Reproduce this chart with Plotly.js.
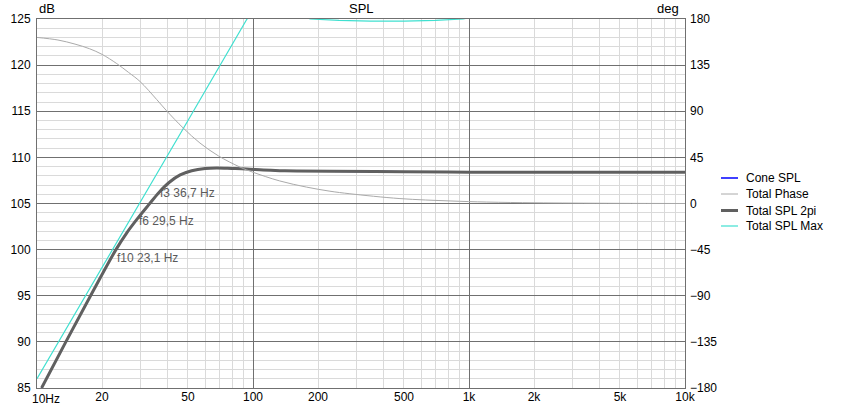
<!DOCTYPE html>
<html>
<head>
<meta charset="utf-8">
<script src="https://cdn.plot.ly/plotly-3.0.1.min.js"></script>
<style>html,body{margin:0;padding:0;background:#fff;}#chart{width:841px;height:405px;}</style>
</head>
<body>
<div id="chart"></div>
<script>
// ---- data ----
const freqSpl = [10.5, 13.6, 17.7, 23.2, 26, 29.5, 33, 36.7, 41, 46, 52, 60, 68, 80, 93.5, 111.6, 133, 159, 227, 500, 1000, 2000, 10000];
const spl2pi  = [85, 90, 95, 100, 101.8, 103.5, 104.9, 106.2, 107.3, 108.1, 108.55, 108.8, 108.85, 108.8, 108.74, 108.63, 108.56, 108.52, 108.49, 108.45, 108.4, 108.39, 108.38];
const coneSpl = spl2pi; // cone SPL lies under the total SPL curve

const freqPhase = [10, 12.5, 15, 17.5, 20, 23.4, 26.5, 30, 35.8, 39.8, 47.6, 56.8, 69.1, 87.1, 100, 133, 177, 227, 281, 479, 817, 1208, 2000, 3000, 5000, 10000];
const phase     = [162, 159.5, 155.5, 151, 145.5, 136.5, 128, 119, 101.5, 90.5, 73.5, 59, 46.5, 35.5, 30.5, 22, 16, 12, 9.5, 4.8, 2.5, 1.4, 0.7, 0.4, 0.15, 0];

const freqMax = [10, 20, 50, 93.8, 120, 184, 250, 350, 500, 700, 940, 1200];
const splMax  = [86, 98, 114, 125, 127, 125, 124.85, 124.78, 124.77, 124.85, 125, 125.6];

const xTickVals = [10, 20, 50, 100, 200, 500, 1000, 2000, 5000, 10000];
const xTickText = ['', '20', '50', '100', '200', '500', '1k', '2k', '5k', '10k'];
const fLabels = ['f3 36,7 Hz', 'f6 29,5 Hz', 'f10 23,1 Hz'];
const fFreqs  = [36.7, 29.5, 23.1];
const fLevels = [106.1, 103.1, 99.1];

const legendNames  = ['Cone SPL', 'Total Phase', 'Total SPL 2pi', 'Total SPL Max'];
const legendColors = ['#0000ff', '#aaaaaa', '#606060', '#40e0d0'];
const legendWidths = [1.5, 1, 3, 1.2];

// ---- build ----
const FONT = 'Liberation Sans, Arial, sans-serif';
const minorVals = [];
[10, 100, 1000].forEach(d => { for (let k = 2; k <= 9; k++) minorVals.push(k * d); });

const traces = [
  {x: freqSpl, y: coneSpl, xaxis: 'x', yaxis: 'y', mode: 'lines', name: legendNames[0],
   line: {color: legendColors[0], width: 1.5, shape: 'spline', smoothing: 1}, showlegend: false, hoverinfo: 'skip'},
  {x: freqMax, y: splMax, xaxis: 'x', yaxis: 'y', mode: 'lines', name: legendNames[3],
   line: {color: legendColors[3], width: 1.2}, showlegend: false, hoverinfo: 'skip'},
  {x: freqSpl, y: spl2pi, xaxis: 'x', yaxis: 'y', mode: 'lines', name: legendNames[2],
   line: {color: legendColors[2], width: 3, shape: 'spline', smoothing: 1}, showlegend: false, hoverinfo: 'skip'},
  {x: freqPhase, y: phase, xaxis: 'x2', yaxis: 'y2', mode: 'lines', name: legendNames[1],
   line: {color: legendColors[1], width: 1, shape: 'spline', smoothing: 1}, showlegend: false, hoverinfo: 'skip'}
];

const L = 37, T = 19, W = 648, H = 369;
const px2paperX = p => (p - L) / W;
const px2paperY = p => (T + H - p) / H;

const annotations = [
  {xref: 'paper', yref: 'paper', x: 0, y: 1, xanchor: 'left', yanchor: 'bottom', yshift: 1, text: 'dB', showarrow: false, font: {family: FONT, size: 13, color: '#000'}},
  {xref: 'paper', yref: 'paper', x: 0.5, y: 1, xanchor: 'center', yanchor: 'bottom', yshift: 1, text: 'SPL', showarrow: false, font: {family: FONT, size: 13, color: '#000'}},
  {xref: 'paper', yref: 'paper', x: px2paperX(681), y: 1, xanchor: 'right', yanchor: 'bottom', yshift: 1, text: 'deg', showarrow: false, font: {family: FONT, size: 13, color: '#000'}},
  {xref: 'x', yref: 'paper', x: Math.log10(xTickVals[0]), y: 0, xanchor: 'left', yanchor: 'top', xshift: -7, yshift: -2, text: '10Hz', showarrow: false, font: {family: FONT, size: 12, color: '#000'}}
];
fLabels.forEach((t, i) => annotations.push({
  xref: 'x', yref: 'y', x: Math.log10(fFreqs[i]), y: fLevels[i], xanchor: 'left', yanchor: 'middle', xshift: -1,
  text: t, showarrow: false, font: {family: FONT, size: 12, color: '#5a5a5a'}
}));

const shapes = [];
const legendRowsPx = [178, 194, 210.5, 226];
legendNames.forEach((n, i) => {
  shapes.push({type: 'line', xref: 'paper', yref: 'paper', x0: px2paperX(721), x1: px2paperX(738),
    y0: px2paperY(legendRowsPx[i]), y1: px2paperY(legendRowsPx[i]), line: {color: legendColors[i], width: legendWidths[i]}});
  annotations.push({xref: 'paper', yref: 'paper', x: px2paperX(744), y: px2paperY(legendRowsPx[i]), xanchor: 'left', yanchor: 'middle',
    text: n, showarrow: false, font: {family: FONT, size: 12, color: '#000'}});
});

const gridDark = '#707070', gridLight = '#dadada';
const layout = {
  width: 841, height: 405,
  margin: {l: L, r: 841 - L - W, t: T, b: 405 - T - H, pad: 0},
  paper_bgcolor: '#fff', plot_bgcolor: '#fff',
  showlegend: false,
  font: {family: FONT, size: 12, color: '#000'},
  xaxis: {type: 'log', range: [1, 4], tickmode: 'array', tickvals: [10, 100, 1000, 10000], showticklabels: false,
          showgrid: true, gridcolor: gridDark, gridwidth: 1, zeroline: false, ticks: '',
          showline: true, mirror: true, linecolor: gridDark, linewidth: 1,
          minor: {tickmode: 'array', tickvals: minorVals, showgrid: true, gridcolor: gridLight, gridwidth: 1, ticks: ''}},
  xaxis2: {type: 'log', range: [1, 4], overlaying: 'x', anchor: 'y', side: 'bottom', tickmode: 'array', tickvals: xTickVals, ticktext: xTickText,
           showgrid: false, zeroline: false, ticks: '', showline: false, tickfont: {family: FONT, size: 12, color: '#000'}},
  yaxis: {range: [85, 125], tickmode: 'linear', tick0: 85, dtick: 5, showgrid: true, gridcolor: gridDark, gridwidth: 1,
          zeroline: false, ticks: '', showline: true, mirror: true, linecolor: gridDark, linewidth: 1, ticklabelstandoff: 3,
          tickfont: {family: FONT, size: 12, color: '#000'},
          minor: {tickmode: 'linear', tick0: 85, dtick: 1, showgrid: true, gridcolor: gridLight, gridwidth: 1, ticks: ''}},
  yaxis2: {range: [-180, 180], overlaying: 'y', side: 'right', anchor: 'x', tickmode: 'linear', tick0: -180, dtick: 45,
           showgrid: false, zeroline: false, ticks: '', showline: false, ticklabelstandoff: 4,
           tickfont: {family: FONT, size: 12, color: '#000'}},
  annotations: annotations,
  shapes: shapes
};

Plotly.newPlot('chart', traces, layout, {staticPlot: true, displayModeBar: false});
</script>
</body>
</html>
